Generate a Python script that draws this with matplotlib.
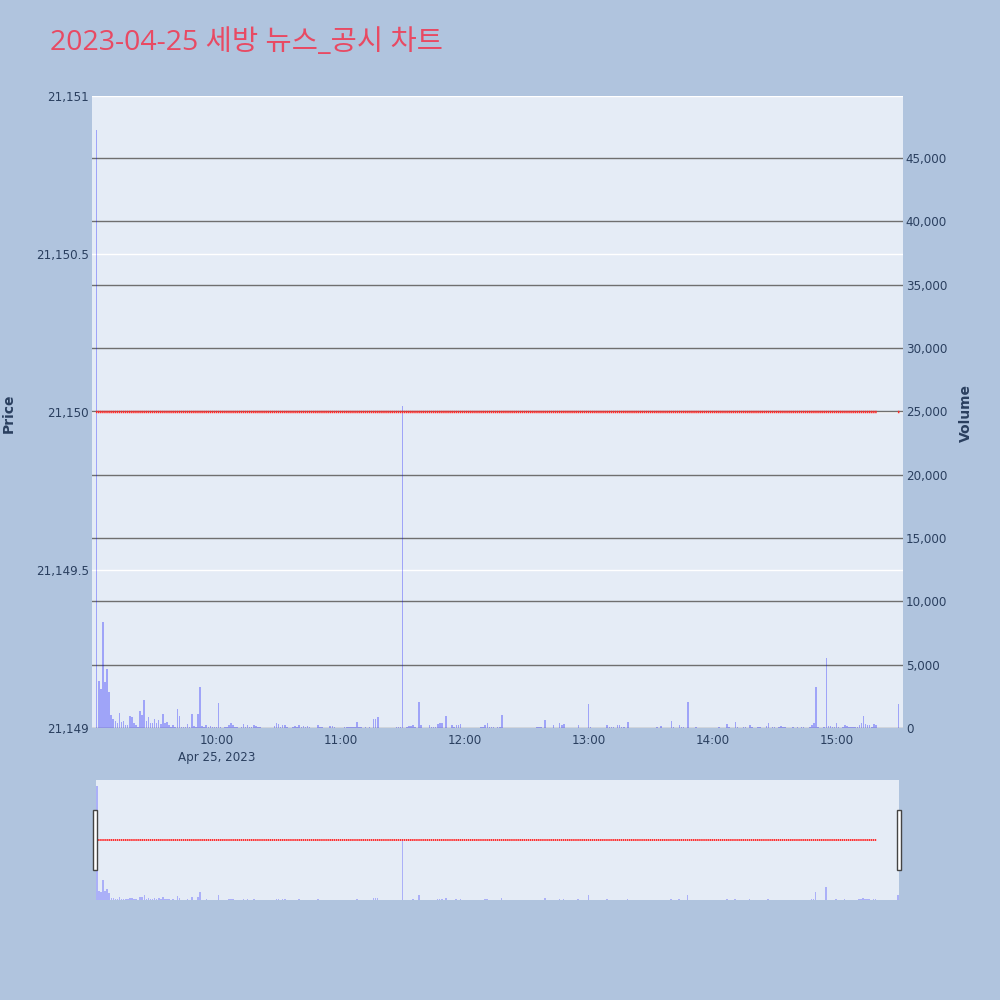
import matplotlib
matplotlib.use('Agg')
import matplotlib.pyplot as plt
import matplotlib.dates as mdates
from matplotlib.patches import Rectangle
import pandas as pd

plt.rcParams['font.family'] = ['DejaVu Sans', 'Noto Sans CJK KR']

# chart data
title = '2023-04-25 세방 뉴스_공시 차트'
first_minute = '2023-04-25 09:02'
close_price = 21150
last_regular_idx = 377   # 15:19, then closing auction print at 15:30

# per-minute volume (09:02 .. 15:30)
volume = [
    47200, 3740, 3110, 8330, 3640, 4690, 2850, 1000, 690, 550,
    420, 1160, 470, 550, 210, 210, 950, 900, 420, 210,
    100, 1370, 1050, 2210, 580, 840, 420, 420, 740, 370,
    630, 320, 1110, 420, 470, 210, 50, 210, 50, 1530,
    950, 80, 100, 100, 320, 50, 1110, 160, 50, 1110,
    3270, 160, 100, 240, 50, 160, 100, 100, 50, 2000,
    50, 0, 80, 100, 210, 370, 260, 100, 50, 0,
    80, 320, 100, 260, 80, 100, 260, 160, 80, 50,
    30, 0, 30, 0, 30, 0, 160, 420, 320, 100,
    210, 260, 50, 0, 0, 50, 160, 100, 210, 50,
    160, 50, 160, 50, 30, 0, 30, 260, 100, 100,
    30, 0, 30, 160, 160, 80, 30, 0, 30, 30,
    80, 50, 50, 50, 50, 80, 500, 50, 50, 30,
    50, 0, 50, 30, 690, 690, 850, 0, 30, 0,
    0, 30, 0, 0, 30, 100, 50, 100, 25400, 0,
    100, 130, 130, 210, 50, 0, 2060, 200, 30, 30,
    0, 200, 50, 50, 100, 310, 370, 370, 0, 950,
    30, 0, 200, 50, 260, 200, 310, 0, 30, 0,
    0, 30, 0, 0, 30, 0, 100, 100, 210, 420,
    100, 50, 100, 30, 100, 100, 1030, 30, 0, 0,
    30, 0, 0, 0, 30, 0, 0, 0, 30, 0,
    0, 30, 0, 50, 50, 50, 0, 630, 30, 0,
    0, 200, 30, 0, 420, 200, 310, 30, 0, 0,
    30, 0, 0, 260, 0, 30, 0, 0, 1900, 50,
    0, 30, 0, 0, 30, 0, 0, 260, 50, 50,
    100, 0, 200, 200, 100, 50, 0, 470, 0, 0,
    30, 0, 0, 30, 0, 0, 0, 30, 0, 0,
    30, 50, 0, 160, 30, 0, 0, 30, 580, 50,
    0, 0, 260, 100, 100, 0, 2080, 0, 30, 0,
    100, 0, 30, 0, 0, 30, 0, 30, 0, 0,
    0, 50, 0, 30, 0, 310, 50, 0, 30, 470,
    50, 0, 30, 50, 50, 0, 210, 100, 30, 0,
    50, 50, 30, 0, 160, 370, 0, 50, 100, 0,
    100, 160, 100, 50, 30, 0, 30, 50, 0, 100,
    0, 50, 100, 0, 30, 100, 260, 370, 3220, 50,
    30, 0, 50, 5540, 160, 160, 100, 100, 370, 50,
    30, 50, 210, 160, 50, 100, 50, 100, 50, 260,
    420, 950, 310, 260, 210, 50, 310, 260, 0, 0,
    0, 0, 0, 0, 0, 0, 0, 0, 1900,
]

price_ticks = [21149, 21149.5, 21150, 21150.5, 21151]
volume_ticks = [0, 5000, 10000, 15000, 20000, 25000, 30000, 35000, 40000, 45000]

# colours
paper = '#b0c4de'
plot_bg = '#e5ecf6'
text_col = '#2a3f5f'
title_col = '#e84a63'
candle_col = '#ff2a2a'

times = pd.date_range(first_minute, periods=len(volume), freq='min')
x = mdates.date2num(times.to_pydatetime())
candle_idx = [i for i in range(len(x)) if i <= last_regular_idx or i == len(x) - 1]
cx = x[candle_idx]
minute = 1 / 1440

fig = plt.figure(figsize=(10, 10), dpi=100, facecolor=paper)

# main chart: price axis
ax = fig.add_axes([0.092, 0.272, 0.811, 0.632])
ax.set_facecolor(plot_bg)
ax.set_ylim(21149, 21151)
ax.set_yticks(price_ticks)
ax.set_yticklabels(['{:,}'.format(v) for v in price_ticks])
ax.grid(axis='y', color='white', lw=1)
ax.set_axisbelow(True)
ax.xaxis.set_major_locator(mdates.HourLocator(byhour=range(10, 16)))
ax.xaxis.set_major_formatter(mdates.DateFormatter('%H:%M'))
ax.set_xlim(mdates.date2num(pd.Timestamp('2023-04-25 08:59:44')),
            mdates.date2num(pd.Timestamp('2023-04-25 15:32:06')))
for s in ax.spines.values():
    s.set_visible(False)
ax.tick_params(length=0, colors=text_col, labelsize=8.6)
ax.tick_params(axis='y', pad=2)
ax.tick_params(axis='x', pad=4)
ax.annotate('Apr 25, 2023', xy=(mdates.date2num(pd.Timestamp('2023-04-25 10:00')), 0),
            xycoords=('data', 'axes fraction'), xytext=(0, -30),
            textcoords='offset pixels', ha='center', va='center',
            fontsize=8.6, color=text_col, annotation_clip=False)

# volume axis
ax2 = ax.twinx()
ax2.bar(x, volume, width=0.75 * minute, color='blue', alpha=0.3, lw=0, zorder=2)
ax2.set_ylim(0, 49900)
ax2.set_yticks(volume_ticks)
ax2.set_yticklabels(['{:,}'.format(v) for v in volume_ticks])
ax2.grid(axis='y', color='#6f6f6f', lw=1)
ax2.set_axisbelow(True)
for s in ax2.spines.values():
    s.set_visible(False)
ax2.tick_params(length=0, colors=text_col, labelsize=8.6, pad=2)

# candles on top, same price scale
ax3 = ax.twinx()
ax3.set_ylim(ax.get_ylim())
ax3.hlines([close_price] * len(cx), cx - 0.36 * minute, cx + 0.36 * minute,
           color=candle_col, lw=1.8, snap=False)
ax3.set_yticks([])
for s in ax3.spines.values():
    s.set_visible(False)

fig.text(0.009, 0.587, 'Price', rotation=90, fontsize=10, fontweight='bold',
         ha='center', va='center', color=text_col)
fig.text(0.966, 0.587, 'Volume', rotation=90, fontsize=10, fontweight='bold',
         ha='center', va='center', color=text_col)
fig.text(0.05, 0.95, title, fontsize=20.5, color=title_col, ha='left', va='baseline',
         family=['Open Sans', 'Noto Sans CJK KR'])

# range slider
axs = fig.add_axes([0.096, 0.100, 0.803, 0.120])
axs.set_facecolor(plot_bg)
axs.set_ylim(21149, 21151)
axs.set_xlim(x[0] - 0.4 * minute, x[-1] + 0.4 * minute)
axs.set_xticks([])
axs.set_yticks([])
for s in axs.spines.values():
    s.set_visible(False)
axs2 = axs.twinx()
axs2.bar(x, volume, width=0.75 * minute, color='blue', alpha=0.25, lw=0)
axs2.set_ylim(0, 49700)
axs2.set_yticks([])
for s in axs2.spines.values():
    s.set_visible(False)
axs3 = axs.twinx()
axs3.set_ylim(axs.get_ylim())
axs3.hlines([close_price] * len(cx), cx - 0.36 * minute, cx + 0.36 * minute,
            color=candle_col, lw=1.4, snap=False)
axs3.set_yticks([])
for s in axs3.spines.values():
    s.set_visible(False)

for hx in (0.093, 0.897):
    fig.add_artist(Rectangle((hx, 0.130), 0.004, 0.060, transform=fig.transFigure,
                             facecolor='white', edgecolor='#444444', lw=1))

fig.savefig('out.png', dpi=100, facecolor=paper)
